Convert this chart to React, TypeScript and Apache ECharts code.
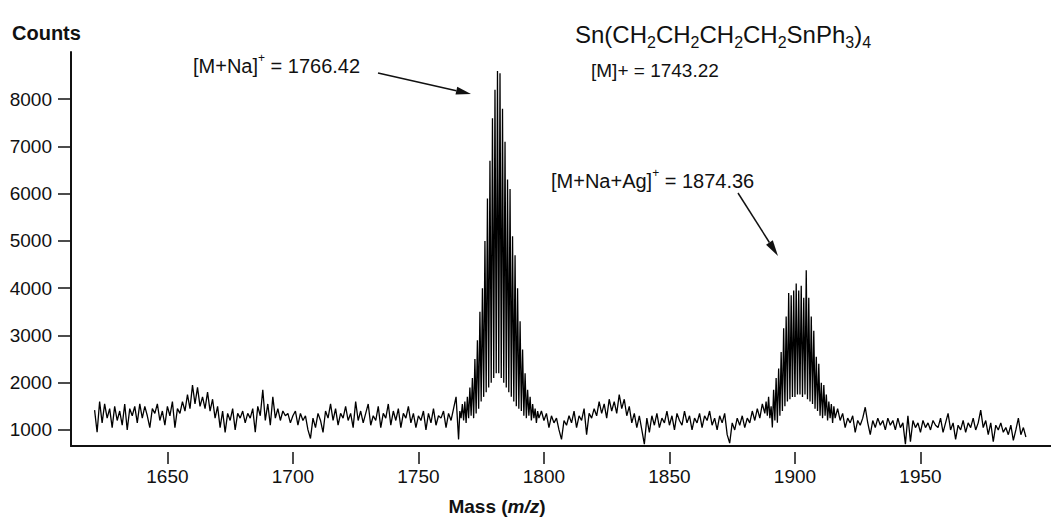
import React, { useEffect, useRef } from "react";
import * as echarts from "echarts";

// m/z axis ticks and count ticks
const massTicks = [1650, 1700, 1750, 1800, 1850, 1900, 1950];
const countTicks = [1000, 2000, 3000, 4000, 5000, 6000, 7000, 8000];

// Spectrum segments: start m/z, step, counts
const segAStart = 1621;
const segAStep = 1;
const segACounts = [
  1420, 950, 1600, 1150, 1550, 1250, 1450, 1050, 1500, 1200,
  1400, 1100, 1550, 1000, 1450, 1300, 1500, 1150, 1550, 1250,
  1500, 1300, 1050, 1450, 1350, 1550, 1200, 1400, 1100, 1500,
  1300, 1600, 1050, 1450, 1350,
  1600, 1400, 1750, 1450, 1950, 1550, 1900, 1500, 1700, 1450, 1800, 1400, 1650,
  1250, 1500, 1050, 1400, 950, 1350, 1200, 1450, 1000, 1350, 1250, 1400,
  1150, 1350, 1250, 1450, 950, 1500, 1300, 1850, 1200, 1550,
  1100, 1700, 1250, 1450, 1200, 1400, 1300, 1350, 1150, 1300,
  1400, 1100, 1350, 1200, 1300, 1000, 820, 1250, 1050, 1350,
  1200, 950, 1400, 1250, 1550, 1200, 1450, 1100, 1350, 1250,
  1500, 1200, 1350, 1050, 1600, 1200, 1400, 1150, 1350, 1550,
  1100, 1300, 1200, 1500, 1050, 1350, 1250, 1550, 1100, 1400,
  1200, 1450, 1050, 1350, 1250,
  1500, 1150, 1350, 1050, 1300, 1200, 1400, 1000, 1350, 1150,
  1450, 1100, 1300, 1250, 1400, 1050, 1350, 1200, 1450, 1700, 800,
];

const segBStart = 1766.5;
const segBStep = 0.5;
const segBCounts = [
  1400, 1250, 1550, 1200, 1600, 1150, 1700, 1250, 1900, 1300,
  2100, 1250, 2500, 1350, 2900, 1450, 3500, 1600, 4000, 1700,
  5000, 1800, 5900, 1900, 6700, 2000, 7600, 2100, 8200, 2200,
  8600, 2200, 8550, 2100, 7800, 2000, 7100, 1900, 6300, 1800,
  6100, 1700, 5100, 1600, 4700, 1500, 4000, 1450, 3300, 1400,
  2700, 1300, 2200, 1250, 1850, 1300, 1700, 1200, 1550, 1250,
  1450, 1150, 1400, 1250,
];

const segCStart = 1799;
const segCStep = 1;
const segCCounts = [
  1400, 1200, 1350, 1050, 1300, 1150, 1250, 1000, 800, 1200,
  1100, 1300, 1150, 1400, 1050, 1300, 1200, 1450, 900, 1350,
  1250, 1450, 1300, 1600, 1350, 1550, 1250, 1650, 1400, 1600,
  1350, 1750, 1450, 1650, 1300, 1500, 1150, 1350, 1050, 1300,
  1000, 700, 1250, 950, 1300, 1100, 1350, 1050, 1250, 1150,
  1400, 1100, 1300, 1000, 1350, 1200, 1100, 1400, 1150, 1300,
  1000, 1250, 1150, 1350, 1050, 1300, 1200, 1400, 1100, 1250,
  1000, 1300, 1150, 1350, 900, 720, 1150, 1000, 1250, 1100,
  1300, 1050, 1250, 1150, 1400, 1200, 1450, 1250, 1550, 1350,
];

const segDStart = 1888.5;
const segDStep = 0.5;
const segDCounts = [
  1600, 1300, 1700, 1250, 1500, 1050, 1850, 1200, 2100, 1150,
  2300, 1300, 2650, 1400, 3150, 1500, 3400, 1600, 3900, 1650,
  3850, 1700, 3950, 1700, 4100, 1750, 3950, 1750, 4050, 1700,
  3800, 1750, 4380, 1650, 3800, 1600, 3400, 1550, 3100, 1450,
  2550, 1400, 2400, 1300, 2000, 1250, 1950, 1300, 1750, 1200,
  1600, 1250, 1550, 1150, 1500, 1250,
];

const segEStart = 1917;
const segEStep = 1;
const segECounts = [
  1450, 1200, 1350, 1050, 1250, 1150, 1300, 950, 1200, 1100,
  1250, 1480, 1150, 900, 1200, 1050, 1250, 1100, 1200, 1000,
  1250, 1100, 1200, 1000, 1250, 1050, 1150, 700, 1300, 750,
  1200, 1050, 1150, 950, 1200, 1050, 1150, 1000, 1200, 1100,
  1050, 1250, 950, 1150, 1350, 1000, 1150, 800, 1100, 1000,
  1200, 950, 1150, 1050, 1250, 1000, 1150, 1420, 1050, 1200,
  900, 1150, 750, 1100, 1000, 1150, 950, 1050, 900, 1100,
  780, 1000, 1250, 900, 1050, 850,
];

const seg = (start: number, step: number, vals: number[]) =>
  vals.map((v, i) => [start + i * step, v]);

const FONT = "'Liberation Sans', Arial, Helvetica, sans-serif";
const INK = "#111";

function arrow(x1: number, y1: number, x2: number, y2: number, headLen: number, headW: number) {
  const dx = x2 - x1;
  const dy = y2 - y1;
  const len = Math.sqrt(dx * dx + dy * dy);
  const ux = dx / len;
  const uy = dy / len;
  const nx = -uy;
  const ny = ux;
  const bx = x2 - ux * headLen;
  const by = y2 - uy * headLen;
  return [
    { type: "line", shape: { x1, y1, x2: bx, y2: by }, style: { stroke: INK, lineWidth: 1.5 } },
    {
      type: "polygon",
      shape: {
        points: [
          [x2, y2],
          [bx + nx * headW / 2, by + ny * headW / 2],
          [bx - nx * headW / 2, by - ny * headW / 2],
        ],
      },
      style: { fill: INK },
    },
  ];
}

export default function App() {
  const ref = useRef<HTMLDivElement>(null);

  useEffect(() => {
    if (!ref.current) return;
    const chart = echarts.init(ref.current, undefined, { renderer: "svg" });

    const data = [
      ...seg(segAStart, segAStep, segACounts),
      ...seg(segBStart, segBStep, segBCounts),
      ...seg(segCStart, segCStep, segCCounts),
      ...seg(segDStart, segDStep, segDCounts),
      ...seg(segEStart, segEStep, segECounts),
    ];

    const xMin = 1611.6;
    const xMax = 2002;
    const plain = (v: number) => String(v);

    chart.setOption({
      animation: false,
      backgroundColor: "#fff",
      grid: { left: 71, right: 0, top: 52, bottom: 72, containLabel: false },
      xAxis: [
        {
          type: "value",
          min: xMin,
          max: xMax,
          position: "bottom",
          axisLine: { show: true, lineStyle: { color: INK, width: 2 } },
          axisTick: { show: false },
          axisLabel: { show: false },
          splitLine: { show: false },
        },
        {
          type: "value",
          min: xMin,
          max: xMax,
          position: "bottom",
          offset: 6,
          axisLine: { show: false },
          axisTick: {
            show: true,
            length: 12,
            customValues: massTicks,
            lineStyle: { color: INK, width: 1.5 },
          },
          axisLabel: {
            show: true,
            customValues: massTicks,
            formatter: plain,
            fontSize: 19,
            fontFamily: FONT,
            color: INK,
            margin: 15,
          },
          splitLine: { show: false },
        },
      ],
      yAxis: {
        type: "value",
        min: 660,
        max: 9000,
        axisLine: { show: true, lineStyle: { color: INK, width: 2 } },
        axisTick: {
          show: true,
          length: 13,
          customValues: countTicks,
          lineStyle: { color: INK, width: 1.5 },
        },
        axisLabel: {
          show: true,
          customValues: countTicks,
          formatter: plain,
          fontSize: 19,
          fontFamily: FONT,
          color: INK,
          margin: 19,
        },
        splitLine: { show: false },
      },
      series: [
        {
          type: "line",
          xAxisIndex: 0,
          data,
          showSymbol: false,
          symbol: "none",
          lineStyle: { color: "#000", width: 1.3 },
        },
      ],
      graphic: [
        {
          type: "text",
          x: 12,
          y: 33,
          style: {
            text: "Counts",
            fill: INK,
            font: `bold 20px ${FONT}`,
            verticalAlign: "middle",
          },
        },
        {
          type: "text",
          x: 497,
          y: 506,
          style: {
            text: "{b|Mass (}{i|m/z}{b|)}",
            fill: INK,
            align: "center",
            verticalAlign: "middle",
            rich: {
              b: { fontWeight: "bold", fontSize: 19, fontFamily: FONT, color: INK },
              i: { fontWeight: "bold", fontStyle: "italic", fontSize: 19, fontFamily: FONT, color: INK },
            },
          },
        },
        {
          type: "text",
          x: 575,
          y: 34,
          style: {
            text:
              "{n|Sn(CH}{s|2}{n|CH}{s|2}{n|CH}{s|2}{n|CH}{s|2}{n|SnPh}{s|3}{n|)}{s|4}",
            fill: INK,
            verticalAlign: "middle",
            rich: {
              n: { fontSize: 24, fontFamily: FONT, color: INK, lineHeight: 32, verticalAlign: "middle" },
              s: { fontSize: 16, fontFamily: FONT, color: INK, lineHeight: 19, verticalAlign: "bottom" },
            },
          },
        },
        {
          type: "text",
          x: 591,
          y: 70,
          style: {
            text: "[M]+ = 1743.22",
            fill: INK,
            font: `19px ${FONT}`,
            verticalAlign: "middle",
          },
        },
        {
          type: "text",
          x: 193,
          y: 66,
          style: {
            text: "{n|[M+Na]}{p|+}{n| = 1766.42}",
            fill: INK,
            verticalAlign: "middle",
            rich: {
              n: { fontSize: 20, fontFamily: FONT, color: INK, lineHeight: 28, verticalAlign: "middle" },
              p: { fontSize: 12, fontFamily: FONT, color: INK, lineHeight: 14, verticalAlign: "top" },
            },
          },
        },
        {
          type: "text",
          x: 551,
          y: 181,
          style: {
            text: "{n|[M+Na+Ag]}{p|+}{n| = 1874.36}",
            fill: INK,
            verticalAlign: "middle",
            rich: {
              n: { fontSize: 20, fontFamily: FONT, color: INK, lineHeight: 28, verticalAlign: "middle" },
              p: { fontSize: 12, fontFamily: FONT, color: INK, lineHeight: 14, verticalAlign: "top" },
            },
          },
        },
        ...arrow(378, 73, 471, 94, 15, 8),
        ...arrow(738, 193, 778, 256, 16, 8),
      ],
    });

    return () => chart.dispose();
  }, []);

  return (
    <div
      ref={ref}
      style={{ position: "fixed", left: 0, top: 0, width: 1051, height: 518, background: "#fff" }}
    />
  );
}
